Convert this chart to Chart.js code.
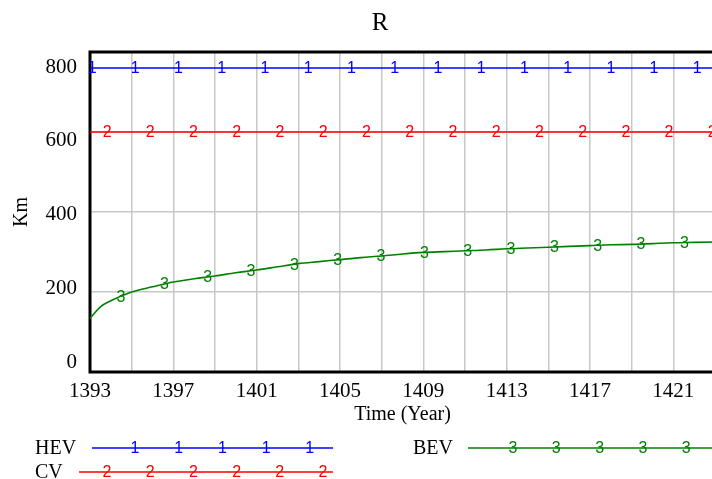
<!DOCTYPE html>
<html>
<head>
<meta charset="utf-8">
<script src="https://cdn.jsdelivr.net/npm/chart.js@4/dist/chart.umd.min.js"></script>
<style>
  html, body { margin: 0; padding: 0; background: #fff; overflow: hidden; }
  #wrap { width: 760px; height: 479px; }
</style>
</head>
<body>
<div id="wrap"><canvas id="rChart" width="760" height="479"></canvas></div>
<script>
// R chart data
var years = [1393, 1393.5, 1394, 1395, 1396, 1397, 1398, 1399, 1400, 1401, 1402, 1403, 1404, 1405, 1406, 1407,
             1408, 1409, 1410, 1411, 1412, 1413, 1414, 1415, 1416, 1417, 1418, 1419, 1420, 1421, 1422, 1423];
var hev = [760, 760, 760, 760, 760, 760, 760, 760, 760, 760, 760, 760, 760, 760, 760, 760,
           760, 760, 760, 760, 760, 760, 760, 760, 760, 760, 760, 760, 760, 760, 760, 760];
var cv = [600, 600, 600, 600, 600, 600, 600, 600, 600, 600, 600, 600, 600, 600, 600, 600,
          600, 600, 600, 600, 600, 600, 600, 600, 600, 600, 600, 600, 600, 600, 600, 600];
var bev = [134, 163, 178, 200, 213, 225, 233, 240, 248, 255, 263, 271, 276, 281, 286, 290,
           295, 299, 301, 303, 305, 308, 310, 312, 314, 316, 318, 319, 321, 323, 324, 325];
var yTicks = [0, 200, 400, 600, 800];
var xLabelYears = [1393, 1397, 1401, 1405, 1409, 1413, 1417, 1421];

var serif = "'Liberation Serif', 'DejaVu Serif', serif";
var sans = "'Liberation Sans', Arial, sans-serif";

function pts(ys) {
    return years.map(function (x, i) { return { x: x, y: ys[i] }; });
}

// value of a dataset at any x (straight between read points)
function valueAt(data, x) {
    for (var i = 0; i < data.length - 1; i++) {
        if (x >= data[i].x && x <= data[i + 1].x) {
            var t = (x - data[i].x) / (data[i + 1].x - data[i].x);
            return data[i].y + t * (data[i + 1].y - data[i].y);
        }
    }
    return data[data.length - 1].y;
}

// the 1 / 2 / 3 marks along each line
var markerPlugin = {
    id: 'markers',
    afterDatasetsDraw: function (chart) {
        var ctx = chart.ctx, xs = chart.scales.x, ys = chart.scales.y;
        ctx.save();
        ctx.font = '16px ' + sans;
        ctx.textAlign = 'center';
        ctx.textBaseline = 'middle';
        chart.data.datasets.forEach(function (ds) {
            ctx.fillStyle = ds.borderColor;
            for (var x = ds.markStart; x <= xs.max; x += ds.markStep) {
                ctx.fillText(ds.mark, xs.getPixelForValue(x), ys.getPixelForValue(valueAt(ds.data, x)) + 1);
            }
        });
        ctx.restore();
    }
};

// black frame, Vensim style y labels, title centred on the whole window
var framePlugin = {
    id: 'frame',
    beforeDatasetsDraw: function (chart) {
        var ctx = chart.ctx, a = chart.chartArea, ys = chart.scales.y;
        ctx.save();
        ctx.strokeStyle = '#000';
        ctx.lineWidth = 3;
        ctx.strokeRect(a.left, a.top, a.right - a.left, a.bottom - a.top);

        ctx.fillStyle = '#000';
        ctx.font = '21px ' + serif;
        ctx.textAlign = 'right';
        ctx.textBaseline = 'middle';
        var lo = a.bottom - 10, hi = a.top + 15;
        yTicks.forEach(function (v) {
            var p = ys.getPixelForValue(v);
            var ly = lo + (p - a.bottom) * (lo - hi) / (a.bottom - a.top);
            ctx.fillText(String(v), a.left - 13, ly);
        });
        ctx.restore();
    }
};

// legend under the plot
var legendPlugin = {
    id: 'vLegend',
    afterDraw: function (chart) {
        var ctx = chart.ctx;
        var items = [
            { ds: 0, tx: 35, y: 448, x0: 92, x1: 333, m0: 135, step: 43.7 },
            { ds: 1, tx: 35, y: 472, x0: 79, x1: 333, m0: 107, step: 43.2 },
            { ds: 2, tx: 413, y: 448, x0: 468, x1: 760, m0: 513, step: 43.3 }
        ];
        ctx.save();
        items.forEach(function (it) {
            var ds = chart.data.datasets[it.ds];
            ctx.fillStyle = '#000';
            ctx.font = '20px ' + serif;
            ctx.textAlign = 'left';
            ctx.textBaseline = 'middle';
            ctx.fillText(ds.label, it.tx, it.y + 1);

            ctx.strokeStyle = ds.borderColor;
            ctx.lineWidth = 1.6;
            ctx.beginPath();
            ctx.moveTo(it.x0, it.y);
            ctx.lineTo(it.x1, it.y);
            ctx.stroke();

            ctx.fillStyle = ds.borderColor;
            ctx.font = '16px ' + sans;
            ctx.textAlign = 'center';
            for (var k = 0; k < 6; k++) {
                var mx = it.m0 + k * it.step;
                if (mx > it.x1 - 5) break;
                ctx.fillText(ds.mark, mx, it.y + 1);
            }
        });
        ctx.restore();
    }
};

var ctx = document.getElementById('rChart').getContext('2d');
var chart = new Chart(ctx, {
    type: 'line',
    data: {
        datasets: [{
            label: 'HEV',
            data: pts(hev),
            borderColor: 'rgb(0, 0, 255)',
            mark: '1', markStart: 1393.1, markStep: 2.075
        }, {
            label: 'CV',
            data: pts(cv),
            borderColor: 'rgb(255, 0, 0)',
            mark: '2', markStart: 1393.82, markStep: 2.075
        }, {
            label: 'BEV',
            data: pts(bev),
            borderColor: 'rgb(0, 128, 0)',
            mark: '3', markStart: 1394.49, markStep: 2.08,
            cubicInterpolationMode: 'monotone'
        }]
    },
    options: {
        responsive: false,
        animation: false,
        layout: { padding: { left: 0, right: 0, top: 0, bottom: 47 } },
        elements: {
            point: { radius: 0 },
            line: { borderWidth: 1.6, fill: false }
        },
        plugins: {
            legend: { display: false },
            tooltip: { enabled: false },
            title: {
                display: true,
                text: 'R',
                color: '#000',
                font: { family: serif, size: 25, weight: 'normal' },
                padding: { top: 8, bottom: 14 }
            }
        },
        scales: {
            x: {
                type: 'linear',
                min: 1393,
                max: 1423,
                afterFit: function (s) { s.height = 60; s.paddingRight = 45; },
                border: { display: false },
                grid: { color: '#c8c8c8', lineWidth: 1.5, drawTicks: false },
                ticks: {
                    stepSize: 2,
                    autoSkip: false,
                    maxRotation: 0,
                    padding: 7,
                    color: '#000',
                    font: { family: serif, size: 21 },
                    callback: function (v) { return xLabelYears.indexOf(v) >= 0 ? String(v) : ''; }
                },
                title: {
                    display: true,
                    text: 'Time (Year)',
                    color: '#000',
                    font: { family: serif, size: 20 },
                    padding: { top: 0, bottom: 5 }
                }
            },
            y: {
                min: 0,
                max: 800,
                afterFit: function (s) { s.width = 90; },
                border: { display: false },
                grid: { color: '#c8c8c8', lineWidth: 1.5, drawTicks: false },
                ticks: { stepSize: 200, display: false },
                title: {
                    display: true,
                    text: 'Km',
                    color: '#000',
                    font: { family: serif, size: 20 },
                    padding: { top: 10, bottom: 0 }
                }
            }
        }
    },
    plugins: [framePlugin, markerPlugin, legendPlugin]
});
</script>
</body>
</html>
